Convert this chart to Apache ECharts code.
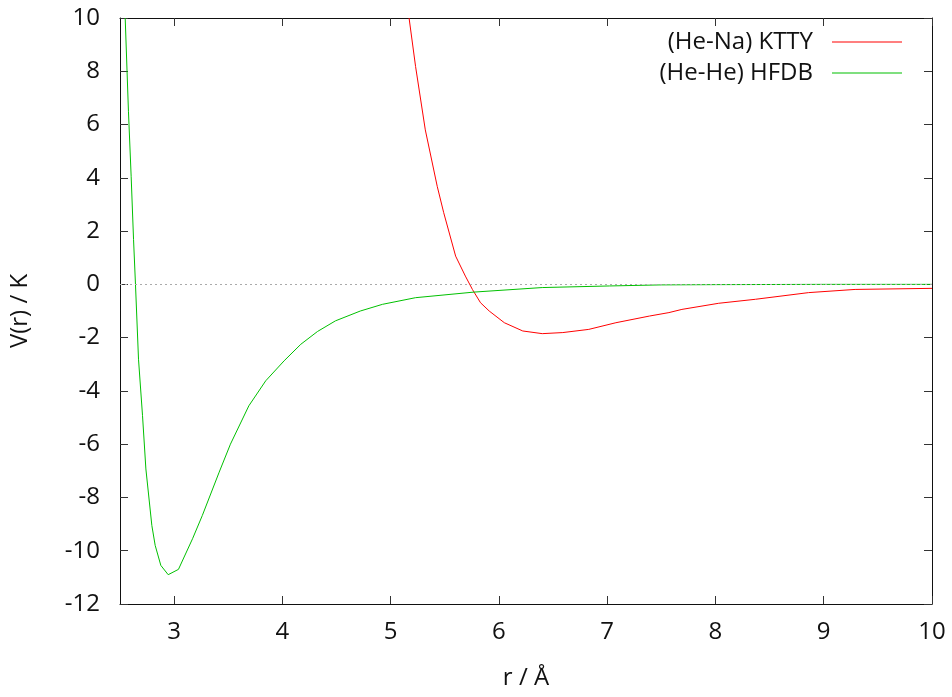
<!DOCTYPE html>
<html><head><meta charset="utf-8">
<script src="https://cdn.jsdelivr.net/npm/echarts@6/dist/echarts.min.js"></script>
<style>html,body{margin:0;padding:0;background:#fff}#c{width:952px;height:697px}</style>
</head><body><div id="c"></div>
<script>
// r (Å) values and V(r) (K) for each potential
const heNaR = [5.17, 5.23, 5.32, 5.43, 5.49, 5.60, 5.69, 5.755, 5.83, 5.91, 6.05, 6.22, 6.40, 6.59, 6.83, 7.08, 7.39, 7.57, 7.69, 8.03, 8.37, 8.86, 9.29, 10.0];
const heNaV = [10, 8.18, 5.8, 3.68, 2.69, 1.06, 0.31, -0.19, -0.69, -1.0, -1.44, -1.75, -1.85, -1.81, -1.69, -1.44, -1.19, -1.06, -0.94, -0.71, -0.56, -0.31, -0.19, -0.15];
const heHeR = [2.548, 2.578, 2.603, 2.625, 2.643, 2.671, 2.708, 2.739, 2.794, 2.825, 2.877, 2.945, 3.04, 3.17, 3.26, 3.416, 3.52, 3.69, 3.846, 4.016, 4.17, 4.324, 4.49, 4.72, 4.924, 5.23, 5.77, 6.40, 7.02, 7.5, 8.0, 9.0, 10.0];
const heHeV = [10, 6.5, 4.06, 1.69, 0, -2.81, -4.93, -6.93, -9.05, -9.80, -10.55, -10.90, -10.70, -9.55, -8.68, -7.05, -6.0, -4.56, -3.62, -2.87, -2.25, -1.77, -1.37, -1.0, -0.75, -0.50, -0.29, -0.12, -0.06, -0.02, -0.01, 0, 0];
const xTicks = [3, 4, 5, 6, 7, 8, 9, 10];
const seriesNames = ['(He-Na) KTTY', '(He-He) HFDB'];

const FONT = 'Open Sans';
const chart = echarts.init(document.getElementById('c'));
const zip = (a, b) => a.map((v, i) => [v, b[i]]);
const tickStyle = {show: true, inside: true, length: 8, lineStyle: {color: '#333', width: 1}};
chart.setOption({
  animation: false,
  backgroundColor: '#fff',
  textStyle: {fontFamily: FONT},
  grid: {left: 117, right: 20, top: 18, bottom: 93, containLabel: false},
  legend: {
    data: seriesNames, orient: 'vertical', right: 45, top: 25, align: 'right',
    icon: 'rect', itemWidth: 70, itemHeight: 1, itemGap: 7,
    textStyle: {fontFamily: FONT, fontSize: 24, color: '#111', padding: [0, 14, 0, 0]}
  },
  xAxis: [{
    type: 'value', min: 2.5, max: 10, position: 'bottom',
    name: 'r / Å', nameLocation: 'middle', nameGap: 62,
    nameTextStyle: {fontFamily: FONT, fontSize: 24, color: '#111'},
    axisLine: {show: true, onZero: false, lineStyle: {color: '#111', width: 1}},
    axisTick: Object.assign({customValues: xTicks}, tickStyle),
    axisLabel: {customValues: xTicks, fontFamily: FONT, fontSize: 24, color: '#111', margin: 16},
    splitLine: {show: false}
  }, {
    type: 'value', min: 2.5, max: 10, position: 'top',
    axisLine: {show: true, onZero: false, lineStyle: {color: '#111', width: 1}},
    axisTick: Object.assign({customValues: xTicks}, tickStyle),
    axisLabel: {show: false}, splitLine: {show: false}
  }],
  yAxis: [{
    type: 'value', min: -12, max: 10, interval: 2, position: 'left',
    name: 'V(r) / K', nameLocation: 'middle', nameGap: 88,
    nameTextStyle: {fontFamily: FONT, fontSize: 24, color: '#111'},
    axisLine: {show: true, onZero: false, lineStyle: {color: '#111', width: 1}},
    axisTick: tickStyle,
    axisLabel: {fontFamily: FONT, fontSize: 24, color: '#111', margin: 20},
    splitLine: {show: false}
  }, {
    type: 'value', min: -12, max: 10, interval: 2, position: 'right',
    axisLine: {show: true, onZero: false, lineStyle: {color: '#111', width: 1}},
    axisTick: tickStyle, axisLabel: {show: false}, splitLine: {show: false}
  }],
  series: [{
    name: seriesNames[0], type: 'line', data: zip(heNaR, heNaV),
    symbol: 'none', lineStyle: {color: '#ff0000', width: 1}, itemStyle: {color: '#ff0000'},
    z: 3
  }, {
    name: seriesNames[1], type: 'line', data: zip(heHeR, heHeV),
    symbol: 'none', lineStyle: {color: '#00c000', width: 1}, itemStyle: {color: '#00c000'},
    z: 3,
    markLine: {
      silent: true, symbol: 'none', label: {show: false},
      lineStyle: {color: '#aaaaaa', type: [2, 3], width: 1},
      data: [{yAxis: 0}]
    }
  }]
});
</script></body></html>
